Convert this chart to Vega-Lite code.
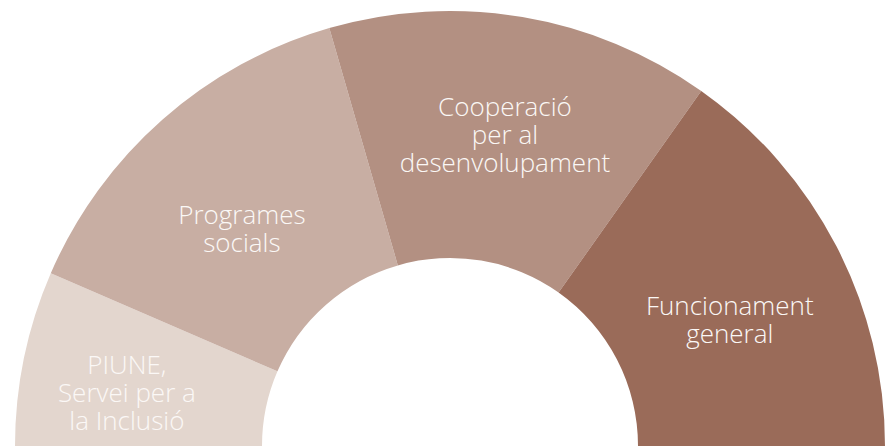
{
  "$schema": "https://vega.github.io/schema/vega-lite/v6.json",
  "width": 874,
  "height": 446,
  "autosize": "none",
  "padding": {"left": 13, "top": 0, "right": 0, "bottom": 0},
  "background": "white",
  "view": {"stroke": null},
  "data": {
    "values": [
      {"ord": 1, "category": "PIUNE, Servei per a la Inclusió", "label": "PIUNE,\nServei per a\nla Inclusió", "lines": 3, "value": 13.0},
      {"ord": 2, "category": "Programes socials", "label": "Programes\nsocials", "lines": 2, "value": 28.05},
      {"ord": 3, "category": "Cooperació per al desenvolupament", "label": "Cooperació\nper al\ndesenvolupament", "lines": 3, "value": 28.55},
      {"ord": 4, "category": "Funcionament general", "label": "Funcionament\ngeneral", "lines": 2, "value": 30.4}
    ]
  },
  "encoding": {
    "theta": {"field": "value", "type": "quantitative", "stack": true, "scale": {"range": [-1.5708, 1.5708]}},
    "order": {"field": "ord", "type": "quantitative"}
  },
  "layer": [
    {
      "mark": {"type": "arc", "radius": 435, "radius2": 188, "x": {"expr": "width/2"}, "y": {"expr": "height"}, "stroke": null},
      "encoding": {
        "color": {
          "field": "category",
          "type": "nominal",
          "sort": null,
          "scale": {
            "domain": ["PIUNE, Servei per a la Inclusió", "Programes socials", "Cooperació per al desenvolupament", "Funcionament general"],
            "range": ["#e3d6ce", "#c8aea3", "#b39082", "#9a6b59"]
          },
          "legend": null
        }
      }
    },
    {
      "mark": {"type": "text", "radius": 330, "x": {"expr": "width/2"}, "y": {"expr": "height"}, "dy": -13, "lineBreak": "\n", "lineHeight": 28, "font": "Open Sans", "fontWeight": 300, "fontSize": 26, "color": "#fbf8f6", "align": "center", "baseline": "middle"},
      "encoding": {
        "text": {"condition": {"test": "datum.lines == 3", "field": "label"}, "value": ""}
      }
    },
    {
      "mark": {"type": "text", "radius": 315, "x": {"expr": "width/2"}, "y": {"expr": "height"}, "dy": 6, "lineBreak": "\n", "lineHeight": 28, "font": "Open Sans", "fontWeight": 300, "fontSize": 26, "color": "#fbf8f6", "align": "center", "baseline": "middle"},
      "encoding": {
        "text": {"condition": {"test": "datum.lines == 2", "field": "label"}, "value": ""}
      }
    }
  ]
}
